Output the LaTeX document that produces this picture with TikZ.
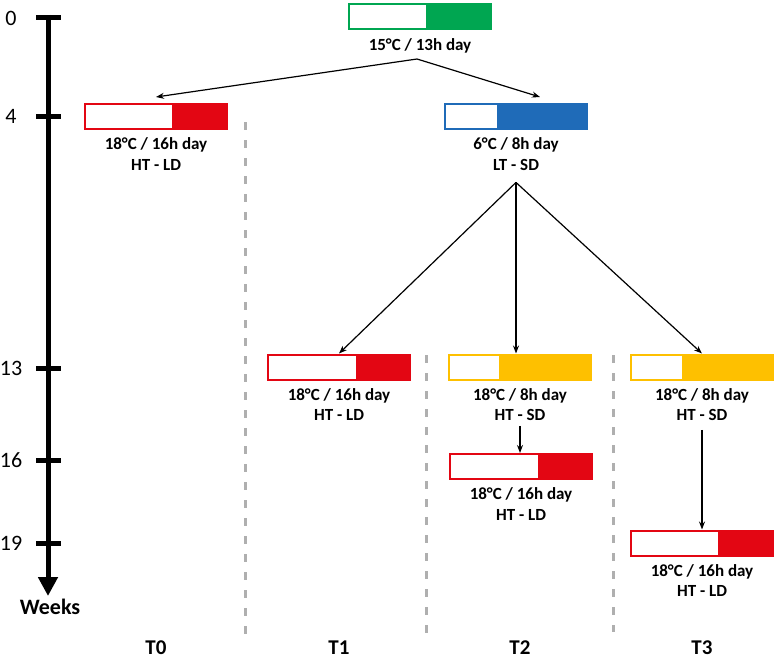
\documentclass[tikz,border=0pt]{standalone}
\usepackage{fontspec}
\setmainfont{Carlito}
\usetikzlibrary{arrows.meta,calc}
\definecolor{cgreen}{RGB}{0,166,81}
\definecolor{cred}{RGB}{227,6,19}
\definecolor{cblue}{RGB}{31,107,184}
\definecolor{cyellow}{RGB}{254,192,0}
\definecolor{sepgray}{RGB}{175,175,175}
\begin{document}
\begin{tikzpicture}[x=1pt,y=-1pt,
  box/.style 2 args={draw=#1, line width=2pt, fill=white, minimum width=142pt,
    minimum height=25pt, inner sep=0pt,
    path picture={\fill[#1] ([xshift=#2]path picture bounding box.south west) rectangle (path picture bounding box.north east);}},
  lbl/.style={font=\bfseries\fontsize{17}{20.5}\selectfont, align=center, inner sep=0pt, anchor=north},
  arr/.style={-{Stealth[length=8pt,width=6pt]}, line width=1.2pt},
  sep/.style={draw=sepgray, line width=3pt, dash pattern=on 8pt off 10pt},
  tickmark/.style={line width=5pt},
  ticklbl/.style={font=\fontsize{22}{24}\selectfont, inner sep=0pt},
  col/.style={font=\bfseries\fontsize{21}{24}\selectfont, inner sep=0pt}]
\useasboundingbox (0,0) rectangle (779,661);

% time axis
\draw[line width=5pt, -{Triangle[length=19pt,width=19pt]}] (48,15) -- (48,596);
\foreach \y/\t in {18/0,116/4,368/13,460/16,543/19}{
  \draw[tickmark] (36,\y) -- (61,\y);
  \node[ticklbl] (w\t) at (11,\y) {\t};
}
\node[font=\bfseries\fontsize{22}{24}\selectfont, inner sep=0pt] (weeks) at (50,607) {Weeks};

% separators
\draw[sep] (245,122) -- (245,638);
\draw[sep] (426,355) -- (426,638);
\draw[sep] (613,355) -- (613,632);

% boxes
\node[box={cgreen}{77pt}] (bg) at (420,17) {};
\node[lbl] (lg) at ([yshift=-7.5pt]bg.south) {15°C / 13h day};

\node[box={cred}{87pt}] (b0) at (156,116.5) {};
\node[lbl] (l0) at ([yshift=-7.5pt]b0.south) {18°C / 16h day\\HT - LD};

\node[box={cblue}{52pt}] (bb) at (516,116.5) {};
\node[lbl] (lb) at ([yshift=-7.5pt]bb.south) {6°C / 8h day\\LT - SD};

\node[box={cred}{88pt}] (b1) at (339,367) {};
\node[lbl] (l1) at ([yshift=-7.5pt]b1.south) {18°C / 16h day\\HT - LD};

\node[box={cyellow}{50pt}] (b2a) at (520,367) {};
\node[lbl] (l2a) at ([yshift=-7.5pt]b2a.south) {18°C / 8h day\\HT - SD};

\node[box={cred}{88pt}] (b2b) at (521,466.5) {};
\node[lbl] (l2b) at ([yshift=-7.5pt]b2b.south) {18°C / 16h day\\HT - LD};

\node[box={cyellow}{51pt}] (b3a) at (702,367) {};
\node[lbl] (l3a) at ([yshift=-7.5pt]b3a.south) {18°C / 8h day\\HT - SD};

\node[box={cred}{87pt}] (b3b) at (702,543) {};
\node[lbl] (l3b) at ([yshift=-7.5pt]b3b.south) {18°C / 16h day\\HT - LD};

% connectors
\coordinate (gs) at ([xshift=-3pt,yshift=-6pt]lg.south);
\draw[arr] (gs) -- ([yshift=6pt]b0.north);
\draw[arr] (gs) -- ([xshift=24pt,yshift=6pt]bb.north);

\coordinate (fs) at ([yshift=-12pt]lb.south);
\draw[arr] (fs) -- (b1.north);
\draw[arr] (fs) -- (fs |- b2a.north);
\draw[arr] (fs) -- (b3a.north);

\coordinate (s2) at ([yshift=-5pt]l2a.south);
\draw[arr] (s2) -- (s2 |- b2b.north);
\coordinate (s3) at ([yshift=-9pt]l3a.south);
\draw[arr] (s3) -- (s3 |- b3b.north);

% column labels
\node[col] (t0) at (156,648) {T0};
\node[col] (t1) at (339,648) {T1};
\node[col] (t2) at (520,648) {T2};
\node[col] (t3) at (702,648) {T3};
\end{tikzpicture}
\end{document}
